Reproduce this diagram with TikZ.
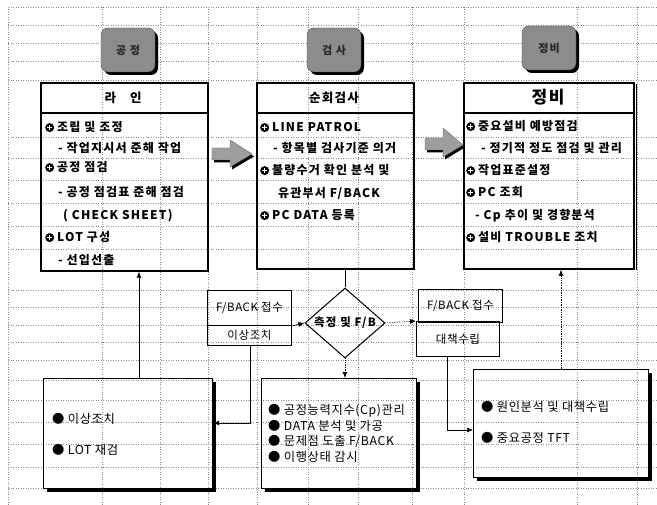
\documentclass[tikz,border=0pt]{standalone}
\usepackage{fontspec}
\setmainfont{Noto Sans CJK KR}
\newfontfamily\krb{Noto Sans CJK KR}[LetterSpace=10]
\newfontfamily\krr{Noto Sans CJK KR}[LetterSpace=5]
\usetikzlibrary{arrows.meta,shapes.geometric,shadows,calc}
\newcommand\obul{\tikz[x=1pt,y=1pt,baseline=0pt]{\fill (0,4.4) circle (4.5); \fill[white] (-2.6,3.7) rectangle (2.6,5.1); \fill[white] (-0.7,1.8) rectangle (0.7,7.0);}\hspace{3pt}}
\begin{document}
\begin{tikzpicture}[x=1pt,y=-1pt,
  gridln/.style={black!45, dotted, line width=0.5pt},
  topbox/.style={draw, line width=1.7pt, inner sep=0, anchor=north west},
  botbox/.style={draw, line width=1.2pt, inner sep=0, anchor=north west},
  smbox/.style={draw, line width=1pt, inner sep=0, anchor=north west, font=\krr\fontsize{11.5}{13}\selectfont},
  itm/.style={anchor=base west, inner sep=0, font=\krb\bfseries\fontsize{12}{14}\selectfont},
  bitm/.style={anchor=base west, inner sep=0, font=\krr\fontsize{12.3}{14}\selectfont},
  ttl/.style={inner sep=0, font=\krb\bfseries\fontsize{12.5}{14}\selectfont},
  lbl/.style={draw=black!70, fill=black!45, rounded corners=7pt, minimum width=54, minimum height=44,
    drop shadow={shadow xshift=3pt, shadow yshift=-3pt, fill=black, opacity=1},
    font=\krb\bfseries\fontsize{11}{13}\selectfont, text=black!85},
  arr/.style={line width=0.7pt, -{Latex[length=6pt,width=5pt]}},
  darr/.style={arr, densely dotted},
  blk/.style={fill=black!38, draw=black!60, line width=0.4pt},
  shd/.style={line width=3pt}
]
\useasboundingbox (0,0) rectangle (657,505);
% spreadsheet grid
\foreach \yy in {7,25,43,61,80,137,158,180,203,226,249,290,307,325,342,360,380,400,422,444,467,488}
  \draw[gridln] (8,\yy) -- (657,\yy);
\foreach \xx in {8,102,160,208,257,308,358,412,464,577,637}
  \draw[gridln] (\xx,7) -- (\xx,505);

% header labels
\node[lbl] (h1) at (128,50) {공 정};
\node[lbl] (h2) at (334,50) {검 사};
\node[lbl] (h3) at (549,48) {정비};

% top boxes
\node[topbox, minimum width=167, minimum height=188] (b1) at (40,82) {};
\node[topbox, minimum width=157, minimum height=186] (b2) at (256,82) {};
\node[topbox, minimum width=170, minimum height=186] (b3) at (463,82) {};
\draw[line width=1.4pt] (b1.west |- 0,113) -- (b1.east |- 0,113);
\draw[line width=1.4pt] (b2.west |- 0,113) -- (b2.east |- 0,113);
\draw[line width=1.4pt] (b3.west |- 0,113) -- (b3.east |- 0,113);
\draw[line width=1.2pt] ($(b3.north east)+(1.5,2)$) -- ($(b3.south east)+(1.5,0)$);

\node[ttl] (t10) at (123,98) {라\hspace{14pt}인};
\node[ttl] (t20) at (334,98) {순회검사};
\node[ttl, font=\krb\bfseries\fontsize{17}{19}\selectfont] (t30) at (548,97) {정비};

\node[itm] (t11) at (45,132) {\obul 조립 및 조정};
\node[itm] (t12) at (58,153) {- 작업지시서 준해 작업};
\node[itm] (t13) at (45,172) {\obul 공정 점검};
\node[itm] (t14) at (58,197) {- 공정 점검표 준해 점검};
\node[itm] (t15) at (63,220) {( CHECK SHEET)};
\node[itm] (t16) at (45,242) {\obul LOT 구성};
\node[itm] (t17) at (58,265) {- 선입선출};

\node[itm] (t21) at (260,132) {\obul LINE PATROL};
\node[itm] (t22) at (273,153) {- 항목별 검사기준 의거};
\node[itm] (t23) at (260,175) {\obul 불량수거 확인 분석 및};
\node[itm] (t24) at (278,198) {유관부서 F/BACK};
\node[itm] (t25) at (260,220) {\obul PC DATA 등록};

\node[itm] (t31) at (466,131) {\obul 중요설비 예방점검};
\node[itm] (t32) at (481,153) {- 정기적 정도 점검 및 관리};
\node[itm] (t33) at (466,175) {\obul 작업표준설정};
\node[itm] (t34) at (466,197) {\obul PC 조회};
\node[itm] (t35) at (475,220) {- Cp 추이 및 경향분석};
\node[itm] (t36) at (466,242) {\obul 설비 TROUBLE 조치};

% block arrows
\fill[black, shift={(2,2.5)}] (212,148) -- (230,148) -- (230,140) -- (252,154) -- (230,167) -- (230,160) -- (212,160) -- cycle;
\filldraw[blk] (212,148) -- (230,148) -- (230,140) -- (252,154) -- (230,167) -- (230,160) -- (212,160) -- cycle;
\fill[black, shift={(2,2.5)}] (425,138) -- (443,138) -- (443,128) -- (463,145) -- (443,157) -- (443,150) -- (425,150) -- cycle;
\filldraw[blk] (425,138) -- (443,138) -- (443,128) -- (463,145) -- (443,157) -- (443,150) -- (425,150) -- cycle;

% middle
\node[smbox, minimum width=84, minimum height=35] (lb1) at (207,290) {F/BACK 접수};
\node[smbox, minimum width=84, minimum height=20] (lb2) at (207,325) {이상조치};
\node[smbox, minimum width=84, minimum height=33] (rb1) at (418,289) {F/BACK 접수};
\node[smbox, minimum width=83, minimum height=35] (rb2) at (416,321) {대책수립};
\node[draw, diamond, line width=1pt, minimum width=80, minimum height=70, inner sep=0] (dm) at (345,323) {};
\node[ttl, font=\krb\bfseries\fontsize{11.5}{13}\selectfont] (dmt) at (dm.center) {측정 및 F/B};

% bottom boxes
\node[botbox, minimum width=169, minimum height=110] (bl) at (43,378) {};
\node[botbox, minimum width=155, minimum height=110] (bm) at (261,378) {};
\node[botbox, minimum width=175, minimum height=108] (br) at (473,369) {};
\draw[shd] ($(bl.north east)+(1.5,4)$) -- ($(bl.south east)+(1.5,1.5)$) -- ($(bl.south west)+(4,1.5)$);
\draw[shd] ($(bm.north east)+(1.5,4)$) -- ($(bm.south east)+(1.5,1.5)$) -- ($(bm.south west)+(4,1.5)$);
\draw[shd] ($(br.north east)+(1.5,4)$) -- ($(br.south east)+(1.5,1.5)$) -- ($(br.south west)+(4,1.5)$);

\node[bitm] (u11) at (52,424) {● 이상조치};
\node[bitm] (u12) at (52,455) {● LOT 재검};
\node[bitm] (u21) at (268,415) {● 공정능력지수(Cp)관리};
\node[bitm] (u22) at (268,431) {● DATA 분석 및 가공};
\node[bitm] (u23) at (268,446) {● 문제점 도출 F/BACK};
\node[bitm] (u24) at (268,462) {● 이행상태 감시};
\node[bitm] (u31) at (481,412) {● 원인분석 및 대책수립};
\node[bitm] (u32) at (481,443) {● 중요공정 TFT};

% connectors
\draw[line width=1pt] (dm.north) -- (dm.north |- b2.south);
\draw[arr] (lb1.south east) -- (dm.west);
\draw[darr] (dm.east) -- (rb2.north west);
\draw[darr] (dm.south) -- (dm.south |- bm.north);
\draw[arr] (bl.north -| 139,0) -- (b1.south -| 139,0);
\draw[darr] (br.north -| 561,0) -- (b3.south -| 561,0);
\draw[arr] (lb2.south -| 250,0) |- (bl.east |- 0,423);
\draw[arr] (rb2.south -| 447,0) |- (br.west |- 0,430);
\end{tikzpicture}
\end{document}
